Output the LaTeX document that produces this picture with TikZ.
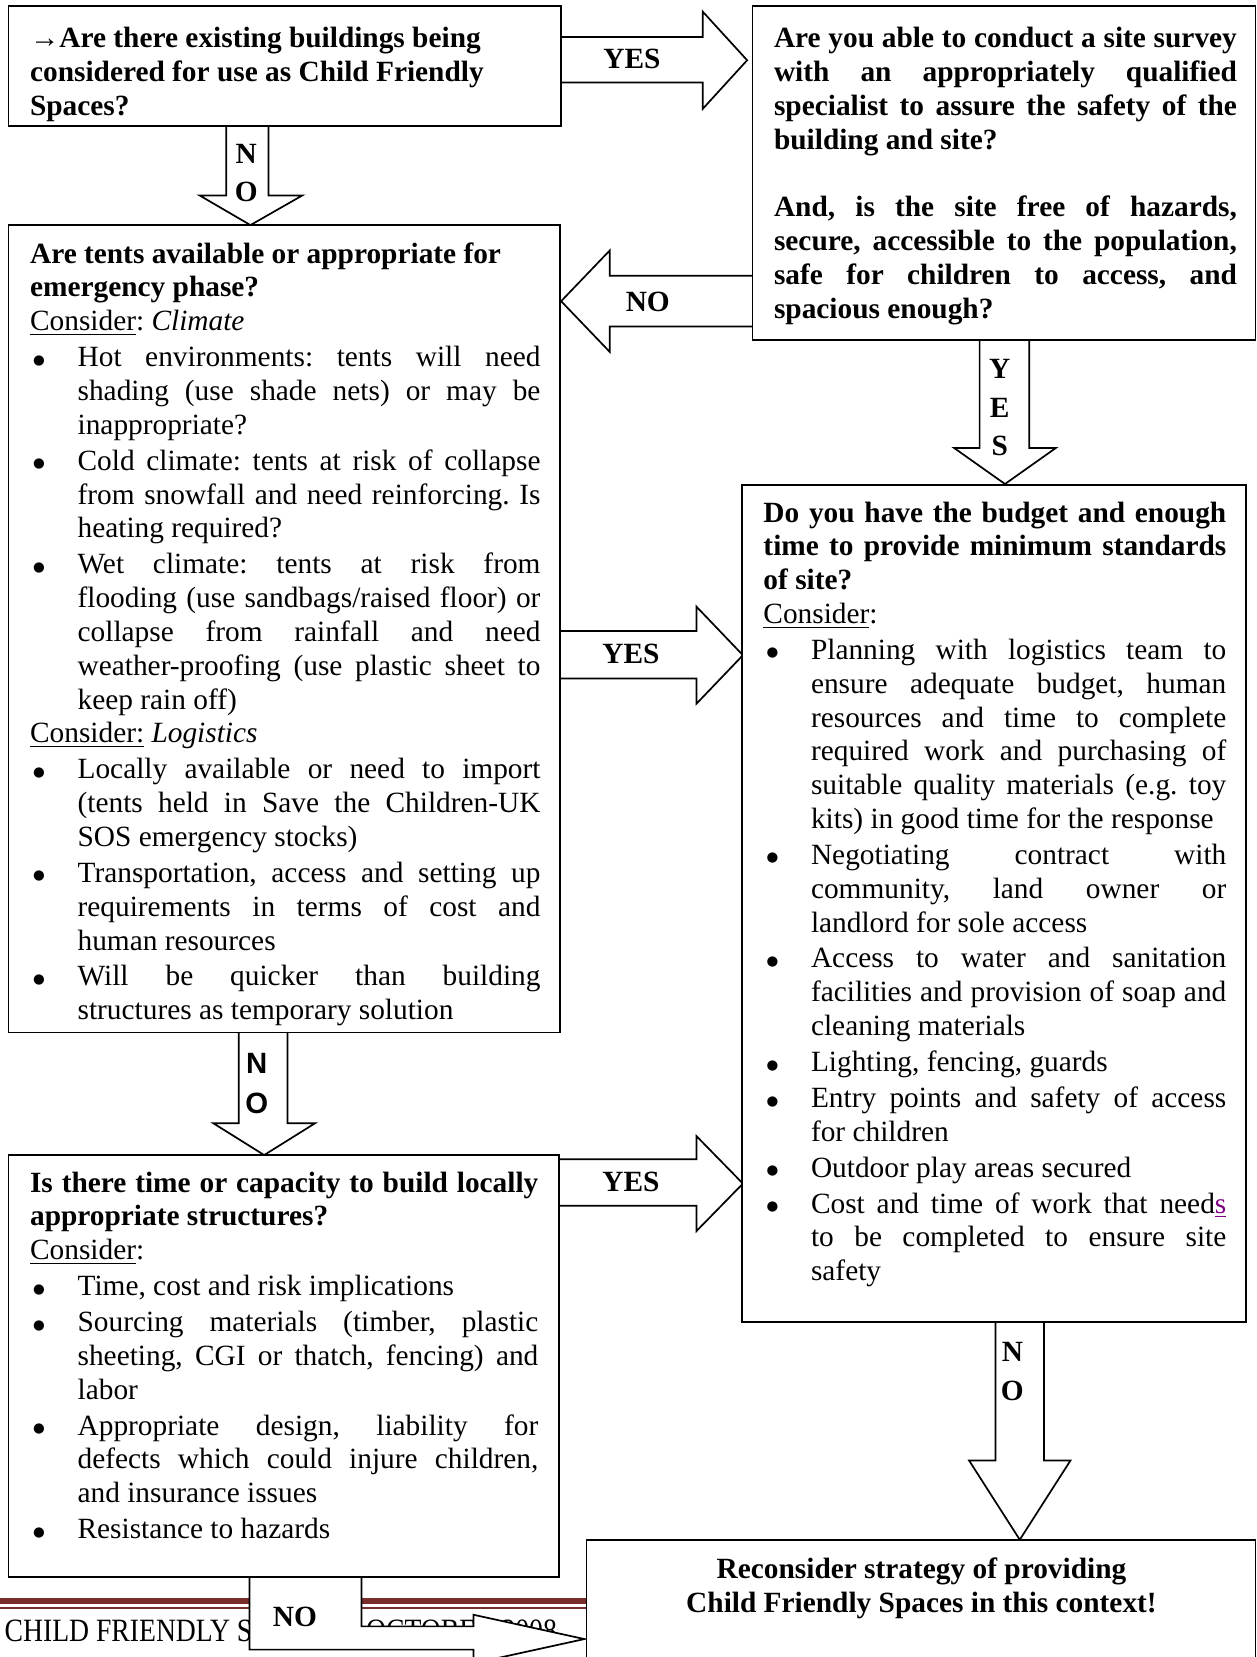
\documentclass[tikz,border=0pt]{standalone}
\usepackage{fontspec}
\setmainfont{Liberation Serif}
\newfontfamily\lsans{Liberation Sans}
\newfontfamily\dvsans{DejaVu Sans}
\newfontfamily\footfont[FakeStretch=0.85]{Liberation Serif}
\usepackage{xcolor}
\definecolor{footred}{RGB}{121,46,44}
\definecolor{linkpurple}{RGB}{128,0,128}
\newlength\pxu \setlength\pxu{0.432pt}
\newlength\xtw \newlength\xhg
\newcommand\boxsetup[2]{\setlength\xtw{#1\pxu}\setlength\xhg{#2\pxu}\fontsize{12pt}{13.824pt}\selectfont\parskip=0pt\parindent=0pt\frenchspacing}
\newcommand\xbul{\makebox[\xhg][l]{\hspace{3\pxu}\raisebox{1pt}{\fontsize{5.5pt}{6pt}\selectfont\dvsans ●}}}
\newcommand\xJL[1]{\makebox[\xtw][s]{#1}\par}
\newcommand\xLL[1]{\makebox[\xtw][l]{#1}\par}
\newcommand\xBJ[1]{\vspace{2\pxu}\xbul\makebox[\dimexpr\xtw-\xhg\relax][s]{#1}\par}
\newcommand\xBL[1]{\vspace{2\pxu}\xbul\makebox[\dimexpr\xtw-\xhg\relax][l]{#1}\par}
\newcommand\xIJ[1]{\hspace*{\xhg}\makebox[\dimexpr\xtw-\xhg\relax][s]{#1}\par}
\newcommand\xIL[1]{\hspace*{\xhg}\makebox[\dimexpr\xtw-\xhg\relax][l]{#1}\par}
\begin{document}
\begin{tikzpicture}[x=0.432pt,y=-0.432pt,
  boxst/.style={draw, line width=0.7pt, fill=white, inner sep=0, outer sep=0, anchor=north west},
  barrow/.style={draw, line width=0.7pt, fill=white, line join=miter},
  txt/.style={anchor=base west, inner sep=0},
  lbl/.style={inner sep=0, font=\fontsize{12pt}{14pt}\selectfont\bfseries},
  slbl/.style={inner sep=0, font=\fontsize{12pt}{14pt}\selectfont\lsans\bfseries}]
\useasboundingbox (0,0) rectangle (1189,1568);
\clip (0,0) rectangle (1189,1568);
% footer
\fill[footred] (0,1512) rectangle (600,1518);
\fill[footred] (0,1521) rectangle (600,1522.5);
\node[txt, font=\fontsize{13.3pt}{15pt}\selectfont\footfont] (foot1) at (4,1553) {CHILD FRIENDLY SPACES};
\node[txt, font=\fontsize{13.3pt}{15pt}\selectfont\footfont] (foot2) at (346,1553) {OCTOBER 2008};
% block arrows
\draw[barrow] (531,35) -- (665,35) -- (665,11) -- (707,57) -- (665,103) -- (665,78) -- (531,78);
\draw[barrow] (214,119) -- (214,185) -- (189,185) -- (237,213) -- (286,185) -- (254,185) -- (254,119);
\draw[barrow] (712,261) -- (577,261) -- (577,237) -- (531,285) -- (577,333) -- (577,309) -- (712,309);
\draw[barrow] (927,322) -- (927,424) -- (903,424) -- (951,458) -- (999,424) -- (974,424) -- (974,322);
\draw[barrow] (530,597) -- (659,597) -- (659,574) -- (703,620) -- (659,666) -- (659,642) -- (530,642);
\draw[barrow] (226,977) -- (226,1063) -- (202,1063) -- (250,1093) -- (298,1063) -- (272,1063) -- (272,977);
\draw[barrow] (529,1097) -- (659,1097) -- (659,1075) -- (703,1120) -- (659,1165) -- (659,1141) -- (529,1141);
\draw[barrow] (942,1251) -- (942,1382) -- (917,1382) -- (965,1457) -- (1013,1382) -- (988,1382) -- (988,1251);
\draw[barrow] (236,1492) -- (236,1561) -- (448,1561) -- (448,1574) -- (553,1551) -- (448,1528) -- (448,1539) -- (342,1539) -- (342,1492);
% arrow labels
\node[lbl] (yes1) at (598,56) {YES};
\node[lbl] (n1) at (233,146) {N};
\node[lbl] (o1) at (233,182) {O};
\node[lbl] (no2) at (613,286) {NO};
\node[lbl] (y3) at (946,349) {Y};
\node[lbl] (e3) at (946,386) {E};
\node[lbl] (s3) at (946,422) {S};
\node[lbl] (yes4) at (597,619) {YES};
\node[slbl] (n5) at (243,1006) {N};
\node[slbl] (o5) at (243,1044) {O};
\node[lbl] (yes6) at (597,1118) {YES};
\node[lbl] (n7) at (958,1279) {N};
\node[lbl] (o7) at (958,1316) {O};
\node[lbl] (no8) at (279,1530) {NO};
% boxes
\node[boxst, minimum width=523\pxu, minimum height=113\pxu] (b1) at (8,6) {};
\node[boxst, minimum width=476\pxu, minimum height=316\pxu] (b2) at (712,6) {};
\node[boxst, minimum width=522\pxu, minimum height=764\pxu] (b3) at (8,213) {};
\node[boxst, minimum width=477\pxu, minimum height=792\pxu] (b4) at (702,459) {};
\node[boxst, minimum width=521\pxu, minimum height=399\pxu] (b5) at (8,1093) {};
\node[boxst, minimum width=633\pxu, minimum height=200\pxu] (b6) at (555,1457) {};
% box texts
\node[txt] (t1) at (28,45) {\begin{minipage}[t]{483\pxu}\boxsetup{483}{45}\bfseries
\xLL{→Are there existing buildings being}
\xLL{considered for use as Child Friendly}
\xLL{Spaces?}
\end{minipage}};
\node[txt] (t2) at (732,45) {\begin{minipage}[t]{438\pxu}\boxsetup{438}{45}\bfseries
\xJL{Are you able to conduct a site survey}
\xJL{with an appropriately qualified}
\xJL{specialist to assure the safety of the}
\xLL{building and site?}
\xLL{}
\xJL{And, is the site free of hazards,}
\xJL{secure, accessible to the population,}
\xJL{safe for children to access, and}
\xLL{spacious enough?}
\end{minipage}};
\node[txt] (t3) at (28,249) {\begin{minipage}[t]{483\pxu}\boxsetup{483}{45}
{\bfseries\xLL{Are tents available or appropriate for}
\xLL{emergency phase?}}
\xLL{\underline{Consider}: \textit{Climate}}
\xBJ{Hot environments: tents will need}
\xIJ{shading (use shade nets) or may be}
\xIL{inappropriate?}
\xBJ{Cold climate: tents at risk of collapse}
\xIJ{from snowfall and need reinforcing. Is}
\xIL{heating required?}
\xBJ{Wet climate: tents at risk from}
\xIJ{flooding (use sandbags/raised floor) or}
\xIJ{collapse from rainfall and need}
\xIJ{weather-proofing (use plastic sheet to}
\xIL{keep rain off)}
\xLL{\underline{Consider:} \textit{Logistics}}
\xBJ{Locally available or need to import}
\xIJ{(tents held in Save the Children-UK}
\xIL{SOS emergency stocks)}
\xBJ{Transportation, access and setting up}
\xIJ{requirements in terms of cost and}
\xIL{human resources}
\xBJ{Will be quicker than building}
\xIL{structures as temporary solution}
\end{minipage}};
\node[txt] (t4) at (722,494) {\begin{minipage}[t]{438\pxu}\boxsetup{438}{45}
{\bfseries\xJL{Do you have the budget and enough}
\xJL{time to provide minimum standards}
\xLL{of site?}}
\xLL{\underline{Consider}:}
\xBJ{Planning with logistics team to}
\xIJ{ensure adequate budget, human}
\xIJ{resources and time to complete}
\xIJ{required work and purchasing of}
\xIJ{suitable quality materials (e.g. toy}
\xIL{kits) in good time for the response}
\xBJ{Negotiating contract with}
\xIJ{community, land owner or}
\xIL{landlord for sole access}
\xBJ{Access to water and sanitation}
\xIJ{facilities and provision of soap and}
\xIL{cleaning materials}
\xBL{Lighting, fencing, guards}
\xBJ{Entry points and safety of access}
\xIL{for children}
\xBL{Outdoor play areas secured}
\xBJ{Cost and time of work that need\textcolor{linkpurple}{\underline{s}}}
\xIJ{to be completed to ensure site}
\xIL{safety}
\end{minipage}};
\node[txt] (t5) at (28,1128) {\begin{minipage}[t]{481\pxu}\boxsetup{481}{45}
{\bfseries\xJL{Is there time or capacity to build locally}
\xLL{appropriate structures?}}
\xLL{\underline{Consider}:}
\xBL{Time, cost and risk implications}
\xBJ{Sourcing materials (timber, plastic}
\xIJ{sheeting, CGI or thatch, fencing) and}
\xIL{labor}
\xBJ{Appropriate design, liability for}
\xIJ{defects which could injure children,}
\xIL{and insurance issues}
\xBL{Resistance to hazards}
\end{minipage}};
\node[anchor=base, inner sep=0] (t6) at (872,1494) {\begin{minipage}[t]{600\pxu}\fontsize{12pt}{13.824pt}\selectfont\bfseries\centering
Reconsider strategy of providing\\
Child Friendly Spaces in this context!\par
\end{minipage}};
\end{tikzpicture}
\end{document}
